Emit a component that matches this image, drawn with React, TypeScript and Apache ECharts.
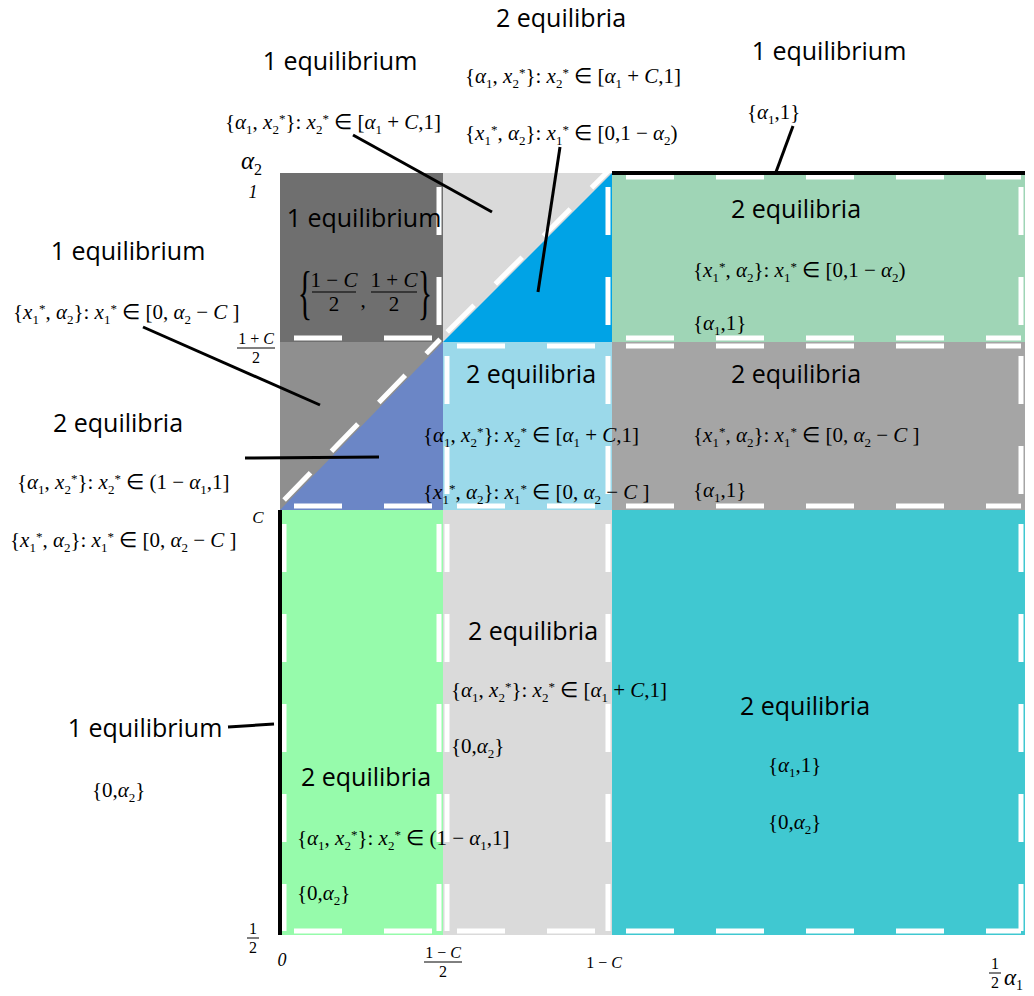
import React, { useEffect, useRef } from 'react';
import * as echarts from 'echarts';

const SERIF = '"Liberation Serif", "Times New Roman", serif';
const SANS = '"Open Sans", "Noto Sans", sans-serif';

// Schematic axis break points (α1 horizontal, α2 vertical)
const xBreaks = [0, 163, 332, 745]; // 0, (1−C)/2, 1−C, 1/2
const yBreaks = [0, 425, 593, 762]; // 1/2, C, (1+C)/2, 1
const xTickLabels: string[][] = [['0'], ['1 − C', '2'], ['1 − C'], ['1', '2']];
const yTickLabels: string[][] = [['1', '2'], ['C'], ['1 + C', '2'], ['1']];

// Regions: [xi0, xi1, yi0, yi1] indexes into the break points
const rectCells = [
  [0, 1, 2, 3],
  [1, 2, 2, 3],
  [2, 3, 2, 3],
  [0, 1, 1, 2],
  [1, 2, 1, 2],
  [2, 3, 1, 2],
  [0, 1, 0, 1],
  [1, 2, 0, 1],
  [2, 3, 0, 1],
];
const rectColors = ['#6f6f6f', '#dadada', '#9fd5b6', '#8f8f8f', '#9bd9ea', '#a5a5a5', '#96fbab', '#dadada', '#40c8d1'];
const rectDashedSides = ['rb', '', 'trb', '', 'tlrb', 'trb', 'lrb', 'lrb', 'rb'];

// Triangles: vertices as [xi, yi]
const triCells = [
  [[1, 2], [2, 3], [2, 2]],
  [[0, 1], [1, 2], [1, 1]],
];
const triColors = ['#00a3e6', '#6b86c6'];
const triDashedSides = ['r', 'b'];

const diagonals = [
  [[1, 2], [2, 3]],
  [[0, 1], [1, 2]],
];
const solidEdges = [
  [[2, 3], [3, 3]],
  [[0, 0], [0, 1]],
];

// Formula strings (a = α, _ = subscript, ^ = superscript)
const fA = '{a_1, x_2^*}: x_2^* ∈ [a_1 + C,1]';
const fB = '{x_1^*, a_2}: x_1^* ∈ [0,1 − a_2)';
const fD = '{x_1^*, a_2}: x_1^* ∈ [0, a_2 − C ]';
const fE = '{a_1, x_2^*}: x_2^* ∈ (1 − a_1,1]';
const fF = '{a_1,1}';
const fG = '{0,a_2}';

const EQ1 = '1 equilibrium';
const EQ2 = '2 equilibria';

function fm(src: string): string {
  let out = '';
  let i = 0;
  const push = (style: string, t: string) => {
    out += style === '' ? t : `{${style}|${t}}`;
  };
  while (i < src.length) {
    const ch = src[i];
    if (ch === '_') { push('s', src[i + 1]); i += 2; continue; }
    if (ch === '^') { push('p', src[i + 1]); i += 2; continue; }
    if (ch === 'a') { push('i', 'α'); i++; continue; }
    if (ch === 'x' || ch === 'C') { push('i', ch); i++; continue; }
    if (ch === '{' || ch === '}') { push('', ch); i++; continue; }
    push('n', ch);
    i++;
  }
  return out;
}

function mathRich(size: number, lh: number) {
  const sub = Math.round(size * 0.62);
  return {
    n: { fontFamily: SERIF, fontSize: size, lineHeight: lh, fill: '#000' },
    i: { fontFamily: SERIF, fontStyle: 'italic', fontSize: size, lineHeight: lh, fill: '#000' },
    s: { fontFamily: SERIF, fontSize: sub, verticalAlign: 'bottom', height: sub, lineHeight: 4, fill: '#000' },
    p: { fontFamily: SERIF, fontSize: sub, verticalAlign: 'top', height: Math.round(size * 0.95), lineHeight: 4, fill: '#000' },
  };
}

function mathText(x: number, y: number, src: string, size = 21, align = 'left', vAlign = 'middle', lhf = 1.35): any {
  const lh = Math.round(size * lhf);
  return {
    type: 'text',
    x,
    y,
    z: 100,
    style: {
      text: fm(src),
      fontFamily: SERIF,
      fontSize: size,
      lineHeight: lh,
      fill: '#000',
      align,
      verticalAlign: vAlign,
      rich: mathRich(size, lh),
    },
  };
}

function italicText(x: number, y: number, text: string, size: number): any {
  return {
    type: 'text',
    x,
    y,
    z: 100,
    style: { text, fontFamily: SERIF, fontStyle: 'italic', fontSize: size, fill: '#000', align: 'center', verticalAlign: 'middle' },
  };
}

function fracEl(cx: number, cy: number, num: string, den: string, size: number, barW: number): any {
  return {
    type: 'group',
    x: cx,
    y: cy,
    z: 100,
    children: [
      mathText(0, -1, num, size, 'center', 'bottom', 1.05),
      { type: 'line', z: 100, shape: { x1: -barW / 2, y1: 0, x2: barW / 2, y2: 0 }, style: { stroke: '#000', lineWidth: 1 } },
      mathText(0, 1, den, size, 'center', 'top', 1.05),
    ],
  };
}

function sansText(x: number, y: number, text: string): any {
  return {
    type: 'text',
    x,
    y,
    z: 100,
    style: { text, fontFamily: SANS, fontSize: 25, lineHeight: 26, fill: '#000', align: 'center', verticalAlign: 'middle' },
  };
}

function leader(x1: number, y1: number, x2: number, y2: number): any {
  return { type: 'line', z: 100, shape: { x1, y1, x2, y2 }, style: { stroke: '#000', lineWidth: 3 } };
}

const DASH = { stroke: '#fff', lineWidth: 5, lineDash: [48, 42] };
const INSET = 4;

function sideLines(L: number, T: number, R: number, B: number, sides: string): any[] {
  const out: any[] = [];
  const add = (x1: number, y1: number, x2: number, y2: number) =>
    out.push({ type: 'line', shape: { x1, y1, x2, y2 }, style: DASH });
  if (sides.includes('t')) add(L + 14, T + INSET, R - INSET, T + INSET);
  if (sides.includes('b')) add(L + 14, B - INSET, R - INSET, B - INSET);
  if (sides.includes('l')) add(L + INSET, T + 14, L + INSET, B - INSET);
  if (sides.includes('r')) add(R - INSET, T + 14, R - INSET, B - INSET);
  return out;
}

export default function App() {
  const ref = useRef<HTMLDivElement>(null);

  useEffect(() => {
    if (!ref.current) return;
    const chart = echarts.init(ref.current, undefined, { renderer: 'svg' });

    const rectData = rectCells.map((c) => [xBreaks[c[0]], xBreaks[c[1]], yBreaks[c[2]], yBreaks[c[3]]]);
    const triData = triCells.map((t) => t.flatMap(([xi, yi]) => [xBreaks[xi], yBreaks[yi]]));
    const diagData = diagonals.map((d) => d.flatMap(([xi, yi]) => [xBreaks[xi], yBreaks[yi]]));
    const edgeData = solidEdges.map((d) => d.flatMap(([xi, yi]) => [xBreaks[xi], yBreaks[yi]]));

    const xLabelOffsets = [[2, 25], [0, 27], [-8, 27], [-30, 38]];
    const yLabelOffsets = [[-27, 3], [-22, 7], [-24, 6], [-27, 19]];

    const tickLabel = (lbl: string[], x: number, y: number): any => {
      if (lbl.length === 2) return fracEl(x, y, lbl[0], lbl[1], 16, lbl[0].length > 2 ? 38 : 12);
      const single = lbl[0];
      if (single === '0' || single === '1') return italicText(x, y, single, 18);
      return mathText(x, y, single, single === 'C' ? 17 : 16, 'center');
    };

    const option: any = {
      animation: false,
      grid: { left: 280, top: 173, width: 745, height: 762 },
      xAxis: { type: 'value', min: 0, max: 745, show: false },
      yAxis: { type: 'value', min: 0, max: 762, show: false },
      series: [
        {
          type: 'custom',
          name: 'regions',
          coordinateSystem: 'cartesian2d',
          clip: false,
          encode: { x: [0, 1], y: [2, 3] },
          data: rectData,
          z: 2,
          renderItem: (params: any, api: any) => {
            const p0 = api.coord([api.value(0), api.value(3)]);
            const p1 = api.coord([api.value(1), api.value(2)]);
            const i = params.dataIndex;
            return {
              type: 'group',
              children: [
                { type: 'rect', shape: { x: p0[0], y: p0[1], width: p1[0] - p0[0], height: p1[1] - p0[1] }, style: { fill: rectColors[i] } },
                ...sideLines(p0[0], p0[1], p1[0], p1[1], rectDashedSides[i]),
              ],
            };
          },
        },
        {
          type: 'custom',
          name: 'triangles',
          coordinateSystem: 'cartesian2d',
          clip: false,
          encode: { x: [0, 2, 4], y: [1, 3, 5] },
          data: triData,
          z: 3,
          renderItem: (params: any, api: any) => {
            const pts = [0, 1, 2].map((k) => api.coord([api.value(2 * k), api.value(2 * k + 1)]));
            const xs = pts.map((p: number[]) => p[0]);
            const ys = pts.map((p: number[]) => p[1]);
            const i = params.dataIndex;
            return {
              type: 'group',
              children: [
                { type: 'polygon', shape: { points: pts }, style: { fill: triColors[i] } },
                ...sideLines(Math.min(...xs), Math.min(...ys), Math.max(...xs), Math.max(...ys), triDashedSides[i]),
              ],
            };
          },
        },
        {
          type: 'custom',
          name: 'diagonals',
          coordinateSystem: 'cartesian2d',
          clip: false,
          encode: { x: [0, 2], y: [1, 3] },
          data: diagData,
          z: 4,
          renderItem: (params: any, api: any) => {
            const a = api.coord([api.value(0), api.value(1)]);
            const b = api.coord([api.value(2), api.value(3)]);
            const dx = b[0] - a[0];
            const dy = b[1] - a[1];
            const len = Math.hypot(dx, dy);
            const nx = dy / len;
            const ny = -dx / len;
            const off = 4;
            return {
              type: 'line',
              shape: { x1: a[0] + nx * off + (dx / len) * 10, y1: a[1] + ny * off + (dy / len) * 10, x2: b[0] + nx * off, y2: b[1] + ny * off },
              style: { stroke: '#fff', lineWidth: 5, lineDash: [38, 30] },
            };
          },
        },
        {
          type: 'custom',
          name: 'edges',
          coordinateSystem: 'cartesian2d',
          clip: false,
          encode: { x: [0, 2], y: [1, 3] },
          data: edgeData,
          z: 5,
          renderItem: (params: any, api: any) => {
            const a = api.coord([api.value(0), api.value(1)]);
            const b = api.coord([api.value(2), api.value(3)]);
            return { type: 'line', shape: { x1: a[0], y1: a[1], x2: b[0], y2: b[1] }, style: { stroke: '#000', lineWidth: 4 } };
          },
        },
        {
          type: 'custom',
          name: 'xTicks',
          coordinateSystem: 'cartesian2d',
          clip: false,
          data: xBreaks.map((v) => [v, 0]),
          z: 6,
          renderItem: (params: any, api: any) => {
            const p = api.coord([api.value(0), api.value(1)]);
            const i = params.dataIndex;
            const o = xLabelOffsets[i];
            return tickLabel(xTickLabels[i], p[0] + o[0], p[1] + o[1]);
          },
        },
        {
          type: 'custom',
          name: 'yTicks',
          coordinateSystem: 'cartesian2d',
          clip: false,
          data: yBreaks.map((v) => [0, v]),
          z: 6,
          renderItem: (params: any, api: any) => {
            const p = api.coord([api.value(0), api.value(1)]);
            const i = params.dataIndex;
            const o = yLabelOffsets[i];
            return tickLabel(yTickLabels[i], p[0] + o[0], p[1] + o[1]);
          },
        },
      ],
      graphic: [
        // axis names
        mathText(241, 160, 'a_2', 25),
        mathText(1004, 977, 'a_1', 23),
        // outside labels
        sansText(561, 17, EQ2),
        sansText(340, 60, EQ1),
        sansText(829, 50, EQ1),
        sansText(128, 250, EQ1),
        sansText(118, 422, EQ2),
        sansText(145, 727, EQ1),
        // inside labels
        sansText(364, 217, EQ1),
        sansText(531, 373, EQ2),
        sansText(796, 373, EQ2),
        sansText(796, 208, EQ2),
        sansText(533, 630, EQ2),
        sansText(366, 776, EQ2),
        sansText(805, 705, EQ2),
        // formulas
        mathText(465, 76, fA),
        mathText(225, 122, fA),
        mathText(423, 435, fA),
        mathText(451, 690, fA),
        mathText(465, 133, fB),
        mathText(693, 270, fB),
        mathText(13, 312, fD),
        mathText(10, 540, fD),
        mathText(423, 492, fD),
        mathText(693, 435, fD),
        mathText(17, 482, fE),
        mathText(297, 838, fE),
        mathText(747, 112, fF),
        mathText(693, 323, fF),
        mathText(693, 490, fF),
        mathText(768, 765, fF),
        mathText(92, 790, fG),
        mathText(451, 746, fG),
        mathText(297, 893, fG),
        mathText(768, 822, fG),
        // the {(1−C)/2, (1+C)/2} set
        { type: 'text', x: 305, y: 292, z: 100, scaleY: 2, style: { text: '{', fontFamily: SERIF, fontSize: 30, fill: '#000', align: 'center', verticalAlign: 'middle' } },
        fracEl(334, 292, '1 − C', '2', 21, 44),
        { type: 'text', x: 363, y: 300, z: 100, style: { text: ',', fontFamily: SERIF, fontSize: 21, fill: '#000', align: 'center', verticalAlign: 'middle' } },
        fracEl(394, 292, '1 + C', '2', 21, 46),
        { type: 'text', x: 425, y: 292, z: 100, scaleY: 2, style: { text: '}', fontFamily: SERIF, fontSize: 30, fill: '#000', align: 'center', verticalAlign: 'middle' } },
        // leader lines
        leader(353, 135, 492, 212),
        leader(560, 147, 538, 292),
        leader(793, 126, 776, 172),
        leader(143, 327, 320, 405),
        leader(245, 458, 379, 457),
        leader(228, 727, 274, 724),
      ],
    };

    chart.setOption(option);
    return () => chart.dispose();
  }, []);

  return <div ref={ref} style={{ position: 'absolute', left: 0, top: 0, width: 1034, height: 996, background: '#fff' }} />;
}
